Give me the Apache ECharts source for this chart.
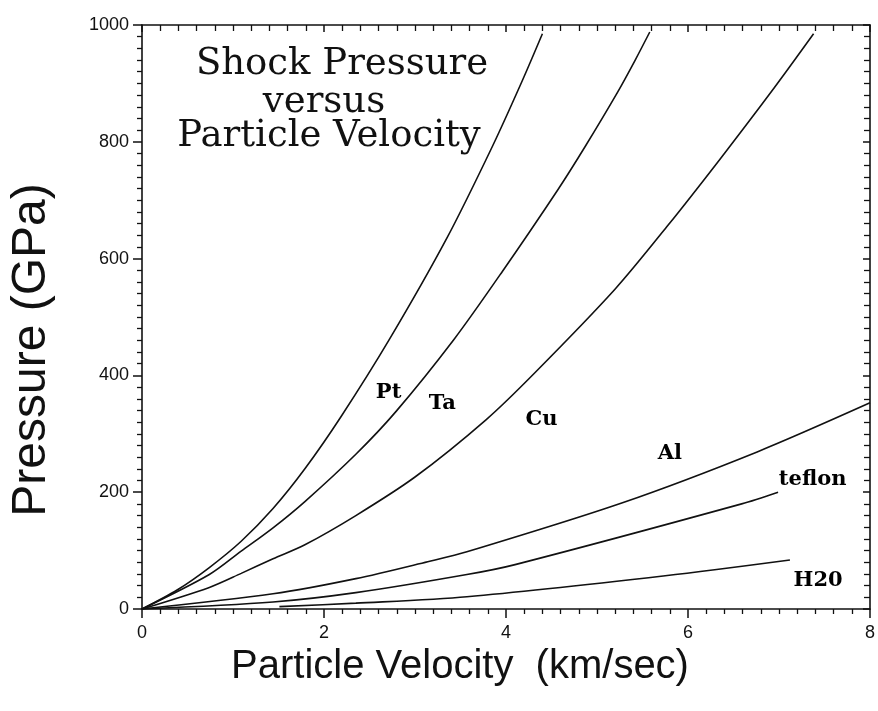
<!DOCTYPE html>
<html>
<head>
<meta charset="utf-8">
<script src="https://cdn.jsdelivr.net/npm/echarts@6/dist/echarts.min.js"></script>
<style>
  html, body { margin: 0; padding: 0; background: #ffffff; }
  #chart { width: 878px; height: 711px; }
</style>
</head>
<body>
<div id="chart"></div>
<script>
// Hugoniot curves: shock pressure (GPa) against particle velocity (km/s)
const ptVelocity = [0, 0.39, 0.74, 1.09, 1.44, 1.79, 2.19, 2.72, 3.35, 3.85, 4.18, 4.40];
const ptPressure = [0, 33, 71, 116, 172, 240, 330, 462, 635, 792, 905, 985];

const taVelocity = [0, 0.74, 1.09, 1.44, 1.79, 2.35, 2.79, 3.43, 3.96, 4.57, 4.87, 5.23, 5.42, 5.58];
const taPressure = [0, 59, 99, 139, 184, 265, 338, 462, 578, 718, 792, 886, 940, 988];

const cuVelocity = [0, 0.74, 1.09, 1.44, 1.79, 2.35, 3.0, 3.78, 4.32, 5.20, 5.78, 6.36, 6.95, 7.38];
const cuPressure = [0, 37, 61, 86, 110, 160, 226, 324, 405, 548, 657, 772, 893, 985];

const alVelocity = [0, 1.44, 2.35, 3.14, 3.57, 5.28, 6.76, 8.0];
const alPressure = [0, 26, 52, 81, 98, 182, 269, 353];

const teflonVelocity = [0, 1.44, 2.35, 3.57, 4.10, 6.59, 6.99];
const teflonPressure = [0, 12, 28, 59, 76, 180, 200];

const waterVelocity = [1.51, 2.35, 3.57, 5.75, 7.12];
const waterPressure = [4, 10, 21, 57, 84];

const materialNames = ['Pt', 'Ta', 'Cu', 'Al', 'teflon', 'H20'];
// where each material's name is written, in data coordinates
const nameVelocity = [2.71, 3.30, 4.39, 5.80, 7.37, 7.43];
const namePressure = [370, 351, 324, 266, 221, 48];

const xTicks = [0, 2, 4, 6, 8];
const yTicks = [0, 200, 400, 600, 800, 1000];

const titleLines = ['Shock Pressure', 'versus', 'Particle Velocity'];

const zip = (xs, ys) => xs.map((x, i) => [x, ys[i]]);
const curves = [
  zip(ptVelocity, ptPressure),
  zip(taVelocity, taPressure),
  zip(cuVelocity, cuPressure),
  zip(alVelocity, alPressure),
  zip(teflonVelocity, teflonPressure),
  zip(waterVelocity, waterPressure)
];

const ink = '#111111';
const axisLine = { show: true, onZero: false, lineStyle: { color: ink, width: 1.6 } };

const chart = echarts.init(document.getElementById('chart'), null, { renderer: 'canvas' });

const series = curves.map((data, i) => ({
  name: materialNames[i],
  type: 'line',
  xAxisIndex: 0,
  yAxisIndex: 0,
  data: data,
  smooth: 0.3,
  showSymbol: false,
  silent: true,
  lineStyle: { color: ink, width: 1.6 }
}));

// material names written beside their curves
series.push({
  type: 'scatter',
  xAxisIndex: 0,
  yAxisIndex: 0,
  silent: true,
  symbol: 'circle',
  symbolSize: 2,
  itemStyle: { color: 'rgba(255,255,255,0)' },
  data: nameVelocity.map((v, i) => ({ name: materialNames[i], value: [v, namePressure[i]] })),
  label: {
    show: true,
    position: [1, 1],
    align: 'center',
    verticalAlign: 'middle',
    formatter: p => p.name,
    fontFamily: 'DejaVu Serif',
    fontWeight: 'bold',
    fontSize: 21,
    color: '#000000',
    opacity: 1
  }
});

const titleX = [342, 324, 329];
const titleBaseline = [83, 121, 155];

chart.setOption({
  animation: false,
  backgroundColor: '#ffffff',
  grid: { left: 141, right: 6, top: 25, bottom: 102 },
  xAxis: [
    {
      type: 'value', position: 'bottom', min: 0, max: 8, interval: 2,
      name: 'Particle Velocity  (km/sec)', nameLocation: 'middle', nameGap: 30,
      nameTextStyle: { fontFamily: 'Liberation Sans', fontSize: 40, color: ink, padding: [0, 92, 0, 0], verticalAlign: 'top' },
      axisLine: axisLine,
      axisTick: { show: true, length: 9, lineStyle: { color: ink, width: 1.5 } },
      minorTick: { show: true, splitNumber: 10, length: 5, lineStyle: { color: ink, width: 1.3 } },
      axisLabel: {
        fontFamily: 'Liberation Sans', fontSize: 18, color: ink, margin: 15,
        formatter: v => (xTicks.indexOf(v) >= 0 ? String(v) : '')
      },
      splitLine: { show: false }
    },
    {
      type: 'value', position: 'top', min: 0, max: 8, interval: 2,
      axisLine: axisLine,
      axisTick: { show: true, inside: true, length: 7, lineStyle: { color: ink, width: 1.5 } },
      minorTick: { show: true, splitNumber: 10, length: 6, lineStyle: { color: ink, width: 1.3 } },
      axisLabel: { show: false },
      splitLine: { show: false }
    }
  ],
  yAxis: [
    {
      type: 'value', position: 'left', min: 0, max: 1000, interval: 200,
      name: 'Pressure (GPa)', nameLocation: 'middle', nameGap: 86,
      nameTextStyle: { fontFamily: 'Liberation Sans', fontSize: 48, color: ink, padding: [0, 66, 0, 0] },
      axisLine: axisLine,
      axisTick: { show: true, length: 9, lineStyle: { color: ink, width: 1.5 } },
      minorTick: { show: true, splitNumber: 10, length: 5, lineStyle: { color: ink, width: 1.3 } },
      axisLabel: {
        fontFamily: 'Liberation Sans', fontSize: 18, color: ink, margin: 13,
        formatter: v => (yTicks.indexOf(v) >= 0 ? String(v) : '')
      },
      splitLine: { show: false }
    },
    {
      type: 'value', position: 'right', min: 0, max: 1000, interval: 200,
      axisLine: axisLine,
      axisTick: { show: true, inside: true, length: 7, lineStyle: { color: ink, width: 1.5 } },
      minorTick: { show: true, splitNumber: 10, length: 6, lineStyle: { color: ink, width: 1.3 } },
      axisLabel: { show: false },
      splitLine: { show: false }
    }
  ],
  graphic: titleLines.map((line, i) => ({
    type: 'text',
    x: titleX[i],
    y: titleBaseline[i],
    silent: true,
    style: {
      text: line,
      align: 'center',
      verticalAlign: 'bottom',
      fontFamily: 'DejaVu Serif',
      fontSize: 37,
      fill: ink
    }
  })),
  series: series
});
</script>
</body>
</html>
